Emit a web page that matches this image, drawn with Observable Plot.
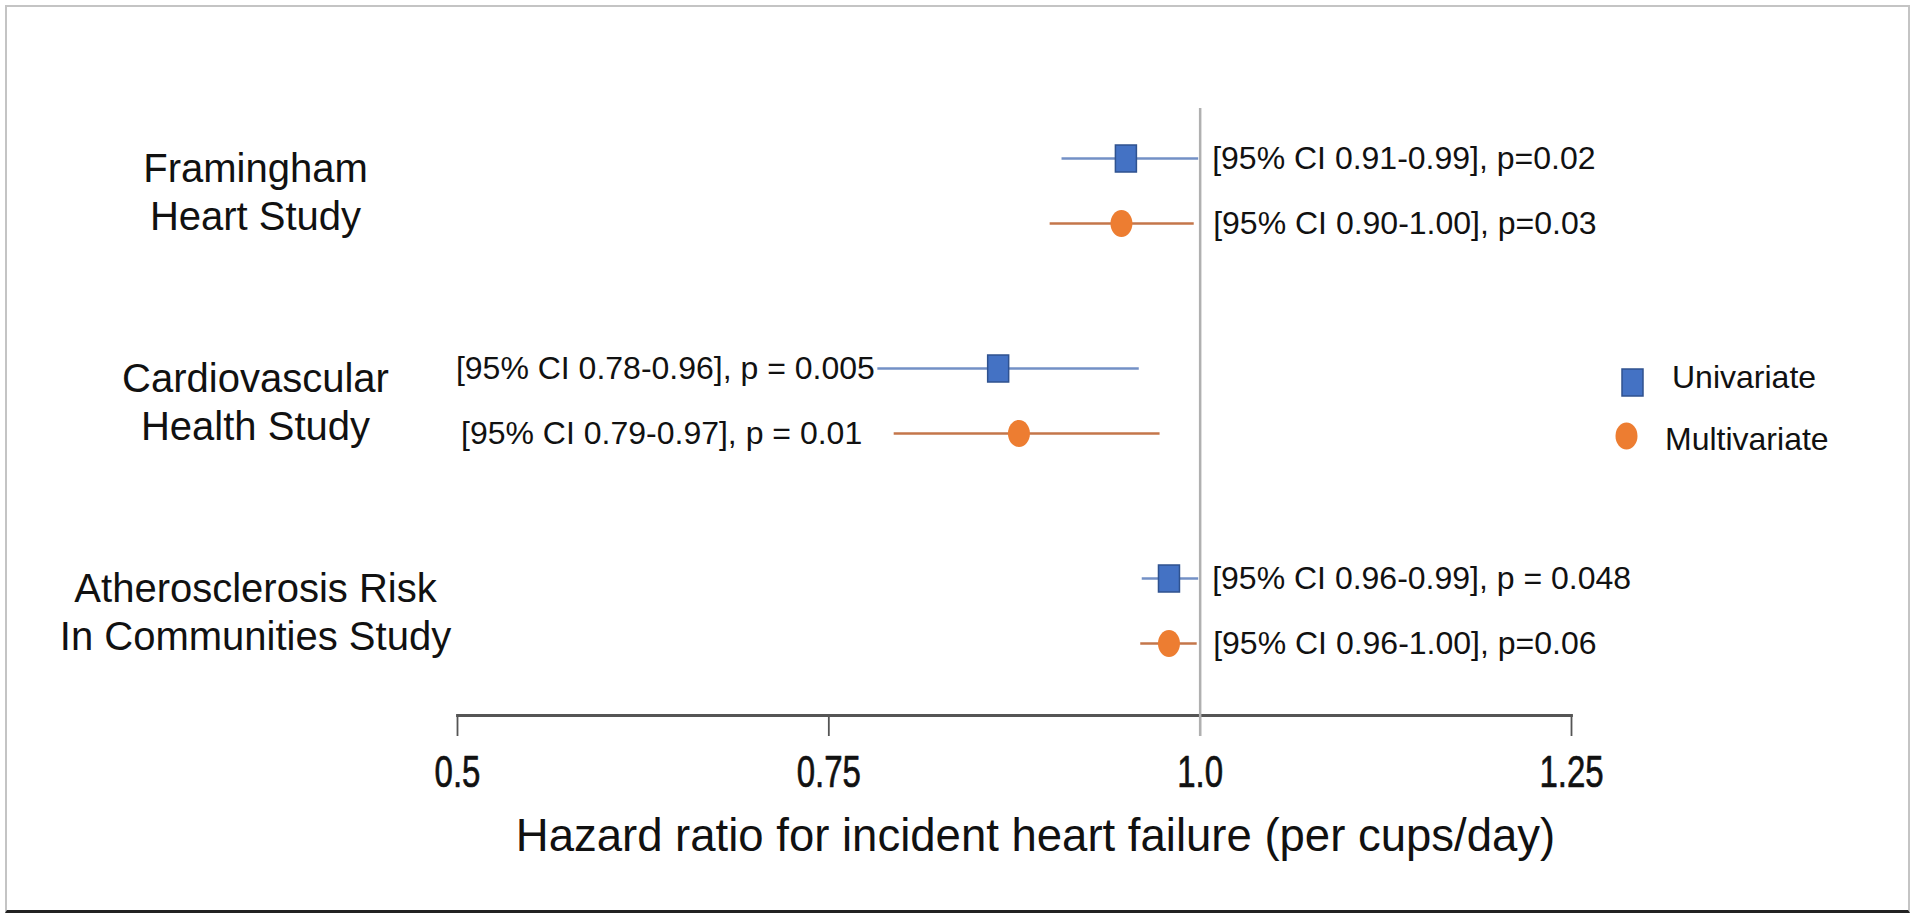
<!DOCTYPE html>
<html><head><meta charset="utf-8">
<script src="https://cdn.jsdelivr.net/npm/d3@7"></script>
<script src="https://cdn.jsdelivr.net/npm/@observablehq/plot@0.6"></script>
<style>
html,body{margin:0;padding:0;background:#fff;width:1920px;height:919px;overflow:hidden;font-family:"Liberation Sans",Arial,sans-serif;}
#chart{position:absolute;left:0;top:0;}
#frame{position:absolute;left:5px;top:5px;width:1901px;height:903px;border-top:2px solid #c4c4c4;border-left:2px solid #c4c4c4;border-right:2px solid #c4c4c4;border-bottom:3px solid #222;pointer-events:none;}
.lg{position:absolute;font-size:32px;line-height:32px;color:#111;white-space:nowrap;}
.lgsym{position:absolute;}
</style></head><body>
<div id="chart"></div>
<div id="legend"></div>
<div id="frame"></div>
<script>
// ---- data ----
const studies = ["Framingham Heart Study", "Cardiovascular Health Study", "Atherosclerosis Risk In Communities Study"];
const studyLabels = ["Framingham\nHeart Study", "Cardiovascular\nHealth Study", "Atherosclerosis Risk\nIn Communities Study"];
const seriesNames = ["Univariate", "Multivariate"];
const uniHR = [0.950, 0.864, 0.979];
const uniLo = [0.907, 0.783, 0.961];
const uniHi = [0.999, 0.959, 0.999];
const multiHR = [0.947, 0.878, 0.979];
const multiLo = [0.899, 0.794, 0.960];
const multiHi = [0.996, 0.973, 0.998];
const uniText = ["[95% CI 0.91-0.99], p=0.02", "[95% CI 0.78-0.96], p = 0.005", "[95% CI 0.96-0.99], p = 0.048"];
const multiText = ["[95% CI 0.90-1.00], p=0.03", "[95% CI 0.79-0.97], p = 0.01", "[95% CI 0.96-1.00], p=0.06"];
const textSide = ["right", "left", "right"];
const xTicks = [0.5, 0.75, 1.0, 1.25];
const xTickLabels = ["0.5", "0.75", "1.0", "1.25"];
const refValue = 1.0;
const xTitle = "Hazard ratio for incident heart failure (per cups/day)";

// ---- colours ----
const blue = "#4472C4", blueEdge = "#2F528F", blueLine = "#7390c6";
const orange = "#ED7D31", orangeLine = "#c4764a";

const uni = studies.map((s, i) => ({study: s, hr: uniHR[i], lo: uniLo[i], hi: uniHi[i], text: uniText[i], side: textSide[i]}));
const multi = studies.map((s, i) => ({study: s, hr: multiHR[i], lo: multiLo[i], hi: multiHi[i], text: multiText[i], side: textSide[i]}));

// custom marker shapes (slightly taller than wide, as in the original)
const rectSymbol = {draw(ctx) { const w = 10.5, h = 13.5; ctx.moveTo(-w, -h); ctx.lineTo(w, -h); ctx.lineTo(w, h); ctx.lineTo(-w, h); ctx.closePath(); }};
const ellipseSymbol = {draw(ctx) {
  const a = 11, b = 13.5, k = 0.5523;
  ctx.moveTo(a, 0);
  ctx.bezierCurveTo(a, k * b, k * a, b, 0, b);
  ctx.bezierCurveTo(-k * a, b, -a, k * b, -a, 0);
  ctx.bezierCurveTo(-a, -k * b, -k * a, -b, 0, -b);
  ctx.bezierCurveTo(k * a, -b, a, -k * b, a, 0);
  ctx.closePath();
}};

const dyU = -32, dyM = 33;
const font = "'Liberation Sans', Arial, sans-serif";
const ann = {fontSize: 32, fill: "#111", ariaLabel: "annotation"};

const chart = Plot.plot({
  width: 1920,
  height: 919,
  marginLeft: 457,
  marginRight: 349,
  marginTop: 85,
  marginBottom: 204,
  style: {fontFamily: font, background: "transparent", color: "#111"},
  x: {domain: [xTicks[0], xTicks[xTicks.length - 1]]},
  y: {type: "point", domain: studies, padding: 0.5, axis: null},
  marks: [
    Plot.frame({anchor: "bottom", stroke: "#555", strokeWidth: 2.8}),
    Plot.axisX({ticks: xTicks, tickFormat: d => xTickLabels[xTicks.indexOf(d)], tickSize: 21, tickPadding: 19,
      fontSize: 44, stroke: "#555", strokeWidth: 1.8, fill: "#111", textStroke: "#111", textStrokeWidth: 0.7, label: null}),
    Plot.ruleX([refValue], {stroke: "#b0b0b0", strokeWidth: 2.5, insetTop: 23, insetBottom: -21}),
    Plot.ruleY(uni, {y: "study", x1: "lo", x2: "hi", dy: dyU, stroke: blueLine, strokeWidth: 2.5}),
    Plot.ruleY(multi, {y: "study", x1: "lo", x2: "hi", dy: dyM, stroke: orangeLine, strokeWidth: 2.5}),
    Plot.dot(uni, {x: "hr", y: "study", dy: dyU, symbol: rectSymbol, r: 10, fill: blue, stroke: blueEdge, strokeWidth: 1.5}),
    Plot.dot(multi, {x: "hr", y: "study", dy: dyM, symbol: ellipseSymbol, r: 10, fill: orange, stroke: "none"}),
    Plot.text(uni.filter(d => d.side === "right"), {x: () => refValue, y: "study", text: "text", dy: dyU, dx: 12, textAnchor: "start", ...ann}),
    Plot.text(multi.filter(d => d.side === "right"), {x: () => refValue, y: "study", text: "text", dy: dyM, dx: 13, textAnchor: "start", ...ann}),
    Plot.text(uni.filter(d => d.side === "left"), {x: "lo", y: "study", text: "text", dy: dyU, dx: -3, textAnchor: "end", ...ann}),
    Plot.text(multi.filter(d => d.side === "left"), {x: "lo", y: "study", text: "text", dy: dyM, dx: -32, textAnchor: "end", ...ann}),
    Plot.text(studies, {y: d => d, text: (d, i) => studyLabels[i], frameAnchor: "left", dx: -202, textAnchor: "middle", fontSize: 40, lineHeight: 1.2, fill: "#111"}),
    Plot.text([xTitle], {text: d => d, frameAnchor: "bottom", dx: 21, dy: 135, fontSize: 45.5, fill: "#111"})
  ]
});
document.getElementById("chart").append(chart);

// condensed tick labels and slightly taller annotation text, as in the original
function stretch(sel, sx, sy) {
  chart.querySelectorAll(sel).forEach(t => {
    const tr = t.getAttribute("transform") || "";
    t.setAttribute("transform", tr + ` scale(${sx},${sy})`);
  });
}
stretch('g[aria-label="x-axis tick label"] text', 0.75, 1);
stretch('g[aria-label="annotation"] text', 1, 1.1);

// ---- legend (inside the chart area, right side) ----
const legend = document.getElementById("legend");
const legendItems = [
  {name: seriesNames[0], sym: `<svg width="23" height="29"><rect x="1" y="1" width="21" height="27" fill="${blue}" stroke="${blueEdge}" stroke-width="1.5"/></svg>`, sx: 1621, sy: 368, tx: 1672, ty: 361},
  {name: seriesNames[1], sym: `<svg width="23" height="28"><ellipse cx="11.5" cy="14" rx="11" ry="13.5" fill="${orange}"/></svg>`, sx: 1615, sy: 422, tx: 1665, ty: 423}
];
for (const it of legendItems) {
  const s = document.createElement("div"); s.className = "lgsym"; s.style.left = it.sx + "px"; s.style.top = it.sy + "px"; s.innerHTML = it.sym; legend.append(s);
  const t = document.createElement("div"); t.className = "lg"; t.style.left = it.tx + "px"; t.style.top = it.ty + "px"; t.textContent = it.name; legend.append(t);
}
</script>
</body></html>
